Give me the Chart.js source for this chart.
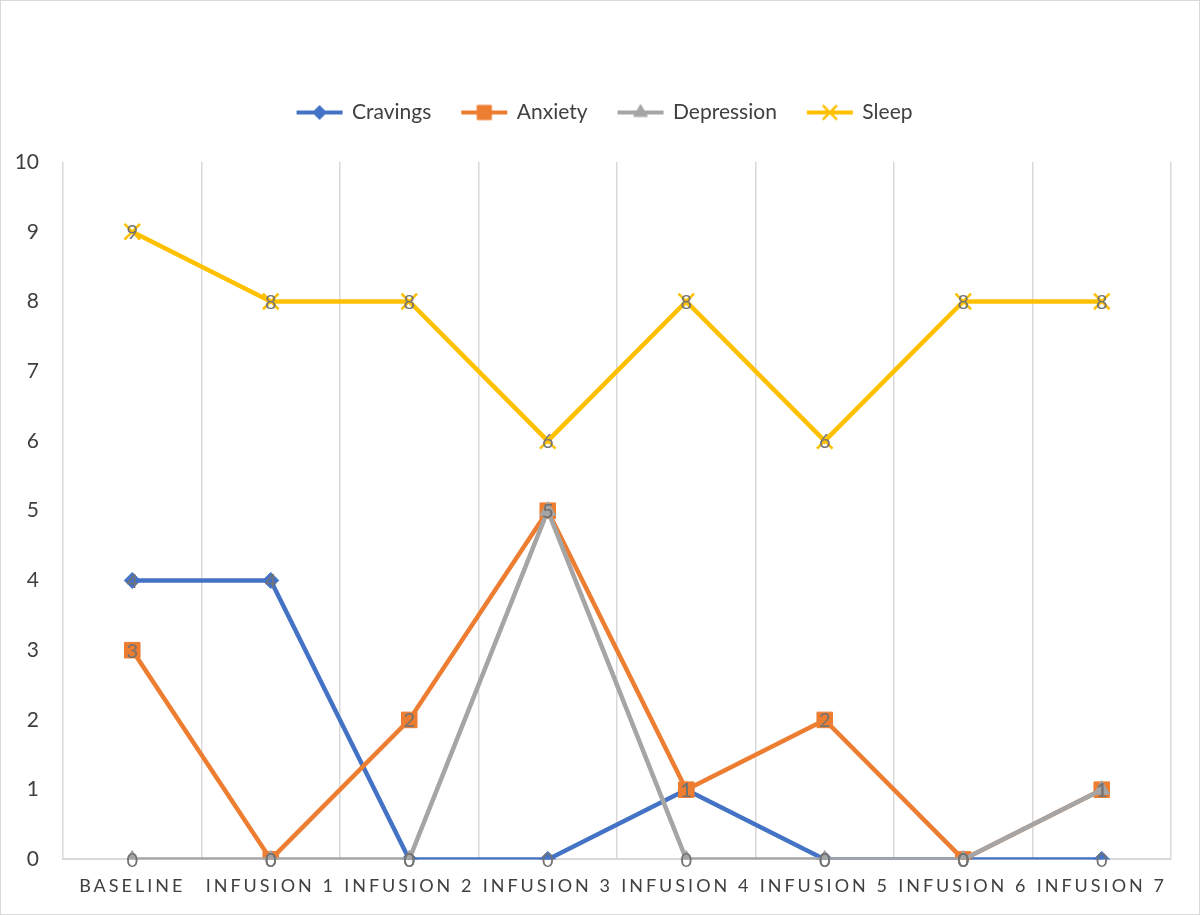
<!DOCTYPE html>
<html>
<head>
<meta charset="utf-8">
<script src="https://cdn.jsdelivr.net/npm/chart.js@4.4.1/dist/chart.umd.min.js"></script>
<style>
  html, body { margin: 0; padding: 0; background: #fff; }
  #wrap { width: 1198px; height: 913px; border: 1px solid #d9d9d9; position: relative; }
</style>
</head>
<body>
<div id="wrap"><canvas id="chart" width="1198" height="913"></canvas></div>
<script>
// data
const categories = ['BASELINE', 'INFUSION 1', 'INFUSION 2', 'INFUSION 3', 'INFUSION 4', 'INFUSION 5', 'INFUSION 6', 'INFUSION 7'];
const cravings = [4, 4, 0, 0, 1, 0, 0, 0];
const anxiety = [3, 0, 2, 5, 1, 2, 0, 1];
const depression = [0, 0, 0, 5, 0, 0, 0, 1];
const sleep = [9, 8, 8, 6, 8, 6, 8, 8];
const yTicks = [0, 1, 2, 3, 4, 5, 6, 7, 8, 9, 10];

const FONT = 'Lato, "Open Sans", sans-serif';

// small line+marker swatch for the legend
function swatch(color, style, radius) {
    const c = document.createElement('canvas');
    c.width = 48; c.height = 22;
    const g = c.getContext('2d');
    g.strokeStyle = color; g.lineWidth = 4;
    g.beginPath(); g.moveTo(1, 11); g.lineTo(47, 11); g.stroke();
    g.fillStyle = color;
    g.lineWidth = style === 'crossRot' ? 2.5 : 1;
    Chart.helpers.drawPoint(g, { pointStyle: style, radius: radius, borderWidth: g.lineWidth, rotation: 0 }, 24, 11);
    return c;
}

const series = [
    { label: 'Cravings', data: cravings, color: '#4472c4', style: 'rectRot', r: 8 },
    { label: 'Anxiety', data: anxiety, color: '#ed7d31', style: 'rect', r: 11 },
    { label: 'Depression', data: depression, color: '#a5a5a5', style: 'triangle', r: 9 },
    { label: 'Sleep', data: sleep, color: '#ffc000', style: 'crossRot', r: 11 }
];

const pointLabels = {
    id: 'pointLabels',
    afterDatasetsDraw(chart) {
        const ctx = chart.ctx;
        ctx.save();
        ctx.font = '20px ' + FONT;
        ctx.fillStyle = '#737373';
        ctx.textAlign = 'center';
        ctx.textBaseline = 'middle';
        chart.data.datasets.forEach((ds, i) => {
            chart.getDatasetMeta(i).data.forEach((pt, j) => {
                ctx.fillText(String(ds.data[j]), pt.x, pt.y + 1);
            });
        });
        ctx.restore();
    }
};

// spaced-out x axis labels, extra room under the legend, legend nudged right
const layoutTweaks = {
    id: 'layoutTweaks',
    beforeInit(chart) {
        const lg = chart.legend;
        if (lg) {
            const fit = lg.fit;
            lg.fit = function () {
                fit.call(this);
                this.height += 29;
            };
        }
    },
    afterLayout(chart) {
        if (chart.legend) {
            chart.legend.left += 12;
            chart.legend.right += 12;
        }
    },
    afterUpdate(chart) {
        const sc = chart.scales.x;
        if (sc && !sc._spaced) {
            const orig = sc.drawLabels;
            sc.drawLabels = function (area) {
                this.ctx.save();
                this.ctx.letterSpacing = '3px';
                orig.call(this, area);
                this.ctx.restore();
            };
            sc._spaced = true;
        }
    }
};

new Chart(document.getElementById('chart').getContext('2d'), {
    type: 'line',
    data: {
        labels: categories,
        datasets: series.map((s, i) => ({
            label: s.label,
            data: s.data,
            borderColor: s.color,
            backgroundColor: s.color,
            borderWidth: 4.5,
            pointStyle: s.style,
            pointRadius: s.r,
            pointBorderWidth: s.style === 'crossRot' ? 2.5 : 1,
            pointBackgroundColor: s.color,
            pointBorderColor: s.color,
            tension: 0,
            order: series.length - i,
            swatch: swatch(s.color, s.style, s.style === 'rect' ? 10 : s.r - 1)
        }))
    },
    options: {
        responsive: false,
        animation: false,
        layout: { padding: { top: 70, left: 14, right: 28, bottom: 1 } },
        plugins: {
            tooltip: { enabled: false },
            legend: {
                position: 'top',
                labels: {
                    usePointStyle: true,
                    pointStyleWidth: 44,
                    padding: 31,
                    color: '#404040',
                    font: { family: FONT, size: 21 },
                    generateLabels(chart) {
                        return chart.data.datasets.map((ds, i) => ({
                            text: ds.label,
                            pointStyle: ds.swatch,
                            fillStyle: ds.borderColor,
                            strokeStyle: ds.borderColor,
                            lineWidth: 0,
                            fontColor: '#404040',
                            datasetIndex: i,
                            hidden: false
                        }));
                    }
                }
            }
        },
        scales: {
            x: {
                offset: true,
                grid: { display: true, offset: true, color: '#d9d9d9', lineWidth: 1.5, drawTicks: false },
                border: { display: true, color: '#d9d9d9', width: 2 },
                ticks: { color: '#404040', font: { family: FONT, size: 18 }, padding: 16, maxRotation: 0, autoSkip: false }
            },
            y: {
                min: yTicks[0],
                max: yTicks[yTicks.length - 1],
                afterBuildTicks(scale) { scale.ticks = yTicks.map(v => ({ value: v })); },
                afterFit(scale) { scale.width = 48; },
                grid: { display: false, drawTicks: false },
                border: { display: false },
                ticks: { color: '#404040', font: { family: FONT, size: 21 }, padding: 24 }
            }
        }
    },
    plugins: [layoutTweaks, pointLabels]
});
</script>
</body>
</html>
